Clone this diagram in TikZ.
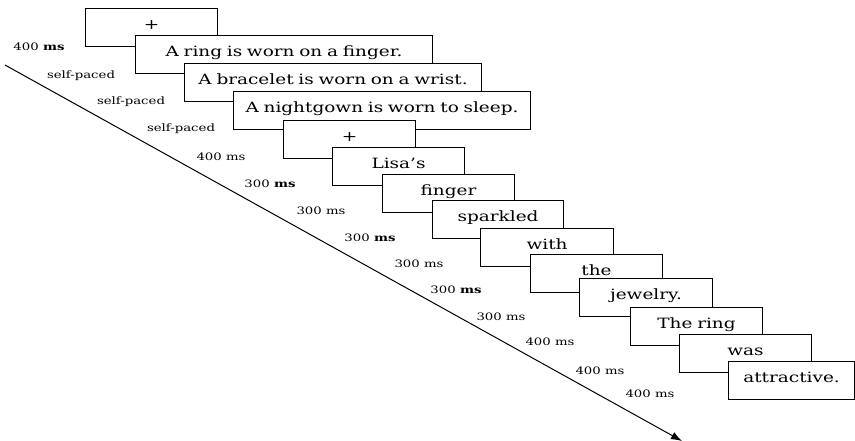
\documentclass[tikz,border=0pt]{standalone}
\usepackage{fontspec}
\setmainfont{DejaVu Serif}[FakeStretch=1.3]
\usetikzlibrary{arrows.meta}
\tikzset{
  frame/.style={draw=black, fill=white, line width=1.1pt, rectangle, anchor=north west,
    inner xsep=0pt, inner ysep=0pt, text height=21pt, text depth=17pt, align=center,
    font=\fontsize{14.2pt}{16pt}\selectfont},
  tlabel/.style={anchor=base, inner sep=0pt, font=\fontsize{10.2pt}{12pt}\selectfont},
  timeline/.style={line width=1pt, -{Latex[length=11pt,width=8pt]}}
}
\newcommand{\fbx}[5]{\node[frame, text width=#3pt-#1pt, minimum width=#3pt-#1pt] (#4) at (#1,#2) {#5};}
\begin{document}
\begin{tikzpicture}[x=1pt,y=-1pt]
\useasboundingbox (0,0) rectangle (855,441);
% time line
\coordinate (tstart) at (5,65);
\coordinate (tend) at (682,441);
\draw[timeline] (tstart) -- (tend);
% frames
\fbx{85}{8}{217}{f0}{+}
\fbx{135}{35}{432}{f1}{A ring is worn on a finger.}
\fbx{184}{63}{481}{f2}{A bracelet is worn on a wrist.}
\fbx{233}{91}{530}{f3}{A nightgown is worn to sleep.}
\fbx{283}{120}{415}{f4}{+}
\fbx{332}{147}{464}{f5}{Lisa’s}
\fbx{382}{174}{514}{f6}{finger}
\fbx{432}{200}{563}{f7}{sparkled}
\fbx{480}{228}{613}{f8}{with}
\fbx{530}{254}{662}{f9}{the}
\fbx{579}{278}{712}{f10}{jewelry.}
\fbx{630}{307}{762}{f11}{The ring}
\fbx{679}{334}{811}{f12}{was}
\fbx{728}{361}{854}{f13}{attractive.}
% durations
\node[tlabel] (d0) at (39,50.5) {400 \textbf{ms}};
\node[tlabel] (d1) at (81,78.5) {self-paced};
\node[tlabel] (d2) at (131,104.5) {self-paced};
\node[tlabel] (d3) at (181,131.5) {self-paced};
\node[tlabel] (d4) at (221,160.5) {400 ms};
\node[tlabel] (d5) at (270,187.5) {300 \textbf{ms}};
\node[tlabel] (d6) at (321,214.5) {300 ms};
\node[tlabel] (d7) at (370,241.5) {300 \textbf{ms}};
\node[tlabel] (d8) at (419,267.5) {300 ms};
\node[tlabel] (d9) at (456,293.5) {300 \textbf{ms}};
\node[tlabel] (d10) at (501,320.5) {300 ms};
\node[tlabel] (d11) at (550,345.5) {400 ms};
\node[tlabel] (d12) at (600,374.5) {400 ms};
\node[tlabel] (d13) at (650,397.5) {400 ms};
\end{tikzpicture}
\end{document}
